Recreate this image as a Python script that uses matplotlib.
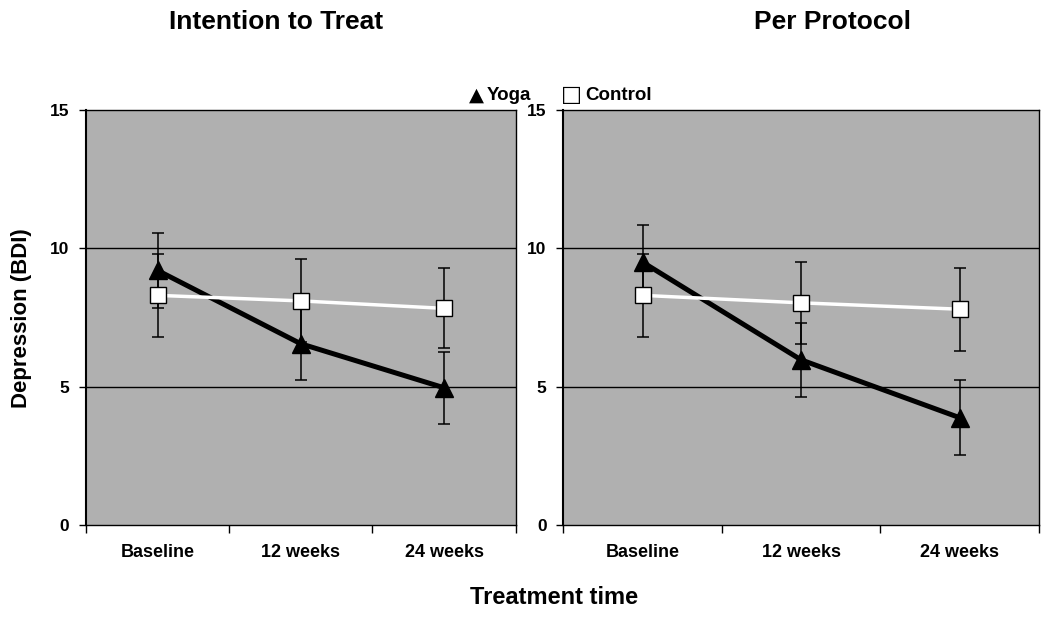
import matplotlib
matplotlib.use('Agg')
import matplotlib.pyplot as plt

plt.rcParams['font.family'] = ['Liberation Sans', 'DejaVu Sans']
plt.rcParams['font.weight'] = 'bold'

times = ['Baseline', '12 weeks', '24 weeks']

# Intention to Treat
itt_yoga = [9.2, 6.55, 4.96]
itt_yoga_err = [1.35, 1.3, 1.3]
itt_control = [8.3, 8.1, 7.83]
itt_control_err = [1.5, 1.5, 1.45]

# Per Protocol
pp_yoga = [9.5, 5.97, 3.88]
pp_yoga_err = [1.35, 1.33, 1.35]
pp_control = [8.3, 8.03, 7.8]
pp_control_err = [1.5, 1.47, 1.5]

fig = plt.figure(figsize=(10.5, 6.18), dpi=100)
ax1 = fig.add_axes([0.0819, 0.1505, 0.4092, 0.6715])
ax2 = fig.add_axes([0.5365, 0.1505, 0.4528, 0.6715])

def draw(ax, yoga, yoga_err, control, control_err):
    x = [i + 0.5 for i in range(len(times))]
    ax.set_facecolor('#b0b0b0')
    ax.errorbar(x, yoga, yerr=yoga_err, fmt='none', ecolor='black',
                elinewidth=1.1, capsize=4, capthick=1.1, zorder=2)
    ax.errorbar(x, control, yerr=control_err, fmt='none', ecolor='black',
                elinewidth=1.1, capsize=4, capthick=1.1, zorder=2)
    ax.plot(x, yoga, color='black', lw=3.6, zorder=3)
    ax.plot(x, control, color='white', lw=2.5, zorder=4)
    ax.plot(x, yoga, ls='none', marker='^', ms=13, color='black', zorder=5)
    ax.plot(x, control, ls='none', marker='s', ms=12, mfc='white',
            mec='black', mew=1, zorder=5)
    ax.set_xlim(0, 3)
    ax.set_ylim(0, 15)
    ax.set_yticks([0, 5, 10, 15])
    for v in [5, 10]:
        ax.axhline(v, color='black', lw=1, zorder=1)
    ax.set_xticks([0, 1, 2, 3])
    ax.set_xticklabels([])
    ax.set_xticks(x, minor=True)
    ax.set_xticklabels(times, minor=True, fontsize=13, fontweight='bold')
    ax.tick_params(axis='x', which='major', direction='out', length=6, width=1)
    ax.tick_params(axis='x', which='minor', length=0, pad=14)
    ax.tick_params(axis='y', direction='out', length=5, width=1, pad=7,
                   labelsize=12.5)
    for lab in ax.get_yticklabels():
        lab.set_fontweight('bold')
    for s in ax.spines.values():
        s.set_color('black')
        s.set_linewidth(1)
    ax.spines['left'].set_linewidth(1.5)

draw(ax1, itt_yoga, itt_yoga_err, itt_control, itt_control_err)
draw(ax2, pp_yoga, pp_yoga_err, pp_control, pp_control_err)

fig.text(276 / 1050, 1 - 22 / 618, 'Intention to Treat', ha='center', va='center',
         fontsize=19, fontweight='bold')
fig.text(832 / 1050, 1 - 22 / 618, 'Per Protocol', ha='center', va='center',
         fontsize=19, fontweight='bold')
fig.text(22 / 1050, 1 - 318 / 618, 'Depression (BDI)', rotation=90, ha='center',
         va='center', fontsize=16, fontweight='bold')
fig.text(554 / 1050, 1 - 598 / 618, 'Treatment time', ha='center', va='center',
         fontsize=17, fontweight='bold')

# legend drawn as text, like the original
fig.text(469 / 1050, 1 - 95 / 618, '▲', ha='left', va='center',
         fontsize=14, family='DejaVu Sans')
fig.text(487 / 1050, 1 - 95 / 618, 'Yoga', ha='left', va='center',
         fontsize=13.5, fontweight='bold')
fig.text(561 / 1050, 1 - 95 / 618, '□', ha='left', va='center',
         fontsize=16, family='DejaVu Sans')
fig.text(585 / 1050, 1 - 95 / 618, 'Control', ha='left', va='center',
         fontsize=13.5, fontweight='bold')

fig.savefig('out.png', dpi=100)
